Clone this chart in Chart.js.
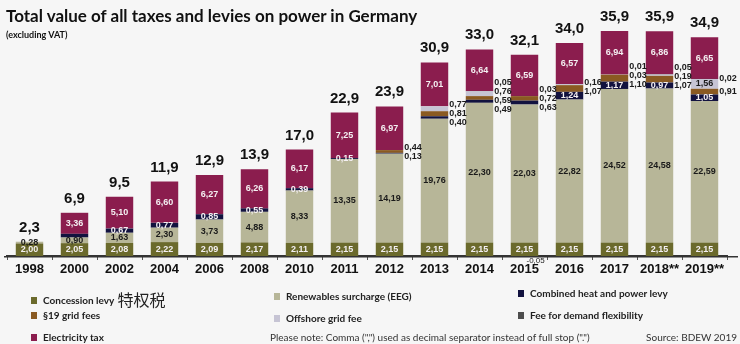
<!DOCTYPE html>
<html>
<head>
<meta charset="utf-8">
<script src="https://cdn.jsdelivr.net/npm/chart.js@4.4.1/dist/chart.umd.min.js"></script>
<style>
  html, body { margin: 0; padding: 0; background: #f6f6f6; }
  #wrap { position: relative; width: 740px; height: 344px; overflow: hidden; }
  #taxChart { position: absolute; left: 0; top: 0; }
  .title { position: absolute; left: 6px; top: 5px; font: bold 17px Lato, sans-serif; color: #111; white-space: nowrap; }
  .sub { position: absolute; left: 6px; top: 29px; font: bold 9px Lato, sans-serif; color: #111; white-space: nowrap; }
  .leg { position: absolute; font: bold 10px Lato, sans-serif; color: #222; white-space: nowrap; line-height: 12px; }
  .leg i { display: inline-block; width: 6px; height: 7px; margin-right: 6px; vertical-align: 0; }
  .leg .cn { font: 16px "Noto Sans CJK SC", sans-serif; vertical-align: -2px; margin-left: 3px; }
  .note { position: absolute; font: 10px Lato, sans-serif; color: #333; white-space: nowrap; line-height: 12px; }
</style>
</head>
<body>
<div id="wrap">
  <canvas id="taxChart" width="740" height="344"></canvas>
  <div class="title">Total value of all taxes and levies on power in Germany</div>
  <div class="sub">(excluding VAT)</div>
  <div class="note" style="left:270px; top:331px;">Please note: Comma (",") used as decimal separator instead of full stop (".")</div>
  <div class="note" style="right:3px; top:331px;">Source: BDEW 2019</div>
</div>
<script>
// billion euros per year, stacked bottom to top
var years = ['1998', '2000', '2002', '2004', '2006', '2008', '2010', '2011', '2012',
             '2013', '2014', '2015', '2016', '2017', '2018**', '2019**'];
var concessionLevy = [2.00, 2.05, 2.08, 2.22, 2.09, 2.17, 2.11, 2.15, 2.15, 2.15, 2.15, 2.15, 2.15, 2.15, 2.15, 2.15];
var eegSurcharge   = [0.28, 0.90, 1.63, 2.30, 3.73, 4.88, 8.33, 13.35, 14.19, 19.76, 22.30, 22.03, 22.82, 24.52, 24.58, 22.59];
var chpLevy        = [0, 0.59, 0.67, 0.77, 0.85, 0.55, 0.39, 0.15, 0.13, 0.40, 0.49, 0.63, 1.24, 1.17, 0.97, 1.05];
var gridFees19     = [0, 0, 0, 0, 0, 0, 0, 0, 0.44, 0.81, 0.59, 0.72, 1.07, 1.10, 1.07, 0.91];
var offshoreFee    = [0, 0, 0, 0, 0, 0, 0, 0, 0, 0.77, 0.76, -0.05, 0.16, 0.03, 0.19, 1.56];
var flexibilityFee = [0, 0, 0, 0, 0, 0, 0, 0, 0, 0, 0.05, 0.03, 0, 0.01, 0.05, 0.02];
var electricityTax = [0, 3.36, 5.10, 6.60, 6.27, 6.26, 6.17, 7.25, 6.97, 7.01, 6.64, 6.59, 6.57, 6.94, 6.86, 6.65];

var series = [
    { key: 'concession', label: 'Concession levy', data: concessionLevy, color: '#6b6a2c' },
    { key: 'eeg', label: 'Renewables surcharge (EEG)', data: eegSurcharge, color: '#b7b698' },
    { key: 'chp', label: 'Combined heat and power levy', data: chpLevy, color: '#12123f' },
    { key: 'grid19', label: '§19 grid fees', data: gridFees19, color: '#8a5a22' },
    { key: 'offshore', label: 'Offshore grid fee', data: offshoreFee, color: '#c6c4d4' },
    { key: 'flex', label: 'Fee for demand flexibility', data: flexibilityFee, color: '#4d4d4d' },
    { key: 'tax', label: 'Electricity tax', data: electricityTax, color: '#8b1d4e' }
];

var fmt = function (v, d) { return v.toFixed(d).replace('.', ','); };

// where each segment's figure goes: inside the bar, in the column to its right, or under the axis
function placement(key, v, i) {
    if (key === 'chp' && years[i] === '2000') return null; // thin band, no figure printed
    if (v < 0) return 'below';
    if (key === 'concession' || key === 'tax') return 'light';
    if (key === 'eeg') return 'dark';
    var crowded = gridFees19[i] > 0;
    if (key === 'chp') return (!crowded || v >= 0.9) ? 'light' : 'side';
    if (key === 'offshore') return v >= 1 ? 'dark' : 'side';
    return 'side';
}

var segmentLabels = {
    id: 'segmentLabels',
    afterDatasetsDraw: function (chart) {
        var ctx = chart.ctx;
        var yScale = chart.scales.y;
        var area = chart.chartArea;
        ctx.save();

        // axis rule runs the full width of the page
        ctx.strokeStyle = '#333';
        ctx.lineWidth = 1.5;
        ctx.beginPath();
        ctx.moveTo(4, area.bottom + 0.75);
        ctx.lineTo(738, area.bottom + 0.75);
        ctx.stroke();

        ctx.textBaseline = 'middle';
        for (var i = 0; i < years.length; i++) {
            var side = [];
            var right = 0, cx = 0, net = 0, pos = 0;
            ctx.font = 'bold 9px "Liberation Sans", Arial, sans-serif';
            series.forEach(function (s, d) {
                var v = s.data[i];
                var bar = chart.getDatasetMeta(d).data[i];
                cx = bar.x;
                right = bar.x + bar.width / 2;
                net += v;
                if (v > 0) pos += v;
                if (!v) return;
                var mid = (bar.y + bar.base) / 2;
                var where = placement(s.key, v, i);
                if (!where) return;
                if (where === 'side') {
                    side.push({ text: fmt(v, 2), y: mid });
                } else if (where === 'below') {
                    ctx.fillStyle = '#222';
                    ctx.textAlign = 'left';
                    ctx.font = '8px "Liberation Sans", Arial, sans-serif';
                    ctx.fillText(fmt(v, 2), bar.x + 2, bar.base + 5);
                    ctx.font = 'bold 9px "Liberation Sans", Arial, sans-serif';
                } else {
                    ctx.fillStyle = where === 'light' ? '#f4f0f2' : '#1a1a1a';
                    ctx.textAlign = 'center';
                    ctx.fillText(fmt(v, 2), bar.x, mid);
                }
            });

            // stack the side figures upward, then centre the column on the segments
            if (side.length) {
                var gap = 9;
                var placed = [];
                side.forEach(function (l, k) {
                    placed.push(k === 0 ? l.y : Math.min(l.y, placed[k - 1] - gap));
                });
                var meanT = side.reduce(function (a, l) { return a + l.y; }, 0) / side.length;
                var meanP = placed.reduce(function (a, y) { return a + y; }, 0) / placed.length;
                ctx.fillStyle = '#1a1a1a';
                ctx.textAlign = 'left';
                side.forEach(function (l, k) {
                    ctx.fillText(l.text, right + 1, placed[k] + (meanT - meanP));
                });
            }

            // total on top of the bar
            ctx.font = 'bold 15px "Liberation Sans", Arial, sans-serif';
            ctx.fillStyle = '#111';
            ctx.textAlign = 'center';
            ctx.textBaseline = 'alphabetic';
            ctx.fillText(fmt(net, 1), cx, yScale.getPixelForValue(pos) - 10);
            ctx.textBaseline = 'middle';
        }
        ctx.restore();
    }
};

new Chart(document.getElementById('taxChart'), {
    type: 'bar',
    data: {
        labels: years,
        datasets: series.map(function (s) {
            return { label: s.label, data: s.data, backgroundColor: s.color, borderWidth: 0 };
        })
    },
    options: {
        responsive: false,
        animation: false,
        layout: { padding: { left: 7, right: 13, top: 18, bottom: 64 } },
        datasets: { bar: { categoryPercentage: 1, barPercentage: 0.61 } },
        plugins: { legend: { display: false }, tooltip: { enabled: false } },
        scales: {
            x: {
                stacked: true,
                grid: { drawOnChartArea: false, tickLength: 4, color: '#555', offset: true },
                border: { color: '#333', width: 1.5 },
                ticks: {
                    color: '#111', padding: 2, maxRotation: 0, autoSkip: false,
                    font: { family: '"Liberation Sans", Arial, sans-serif', weight: 'bold', size: 13 }
                },
                afterFit: function (s) { s.height = 24; }
            },
            y: { stacked: true, display: false, min: 0, max: 38 }
        }
    },
    plugins: [segmentLabels]
});

// legend: three columns, series in stacking order; the middle column sits a little lower
var cols = [31, 274, 518], rows = [287, 309, 331];
var wrap = document.getElementById('wrap');
series.forEach(function (s, d) {
    var el = document.createElement('div');
    el.className = 'leg';
    el.style.left = cols[d % 3] + 'px';
    el.style.top = (rows[Math.floor(d / 3)] + (d % 3 === 1 ? 3 : 0)) + 'px';
    el.innerHTML = '<i style="background:' + s.color + '"></i>' + s.label +
        (s.key === 'concession' ? '<span class="cn">特权税</span>' : '');
    wrap.appendChild(el);
});
</script>
</body>
</html>
